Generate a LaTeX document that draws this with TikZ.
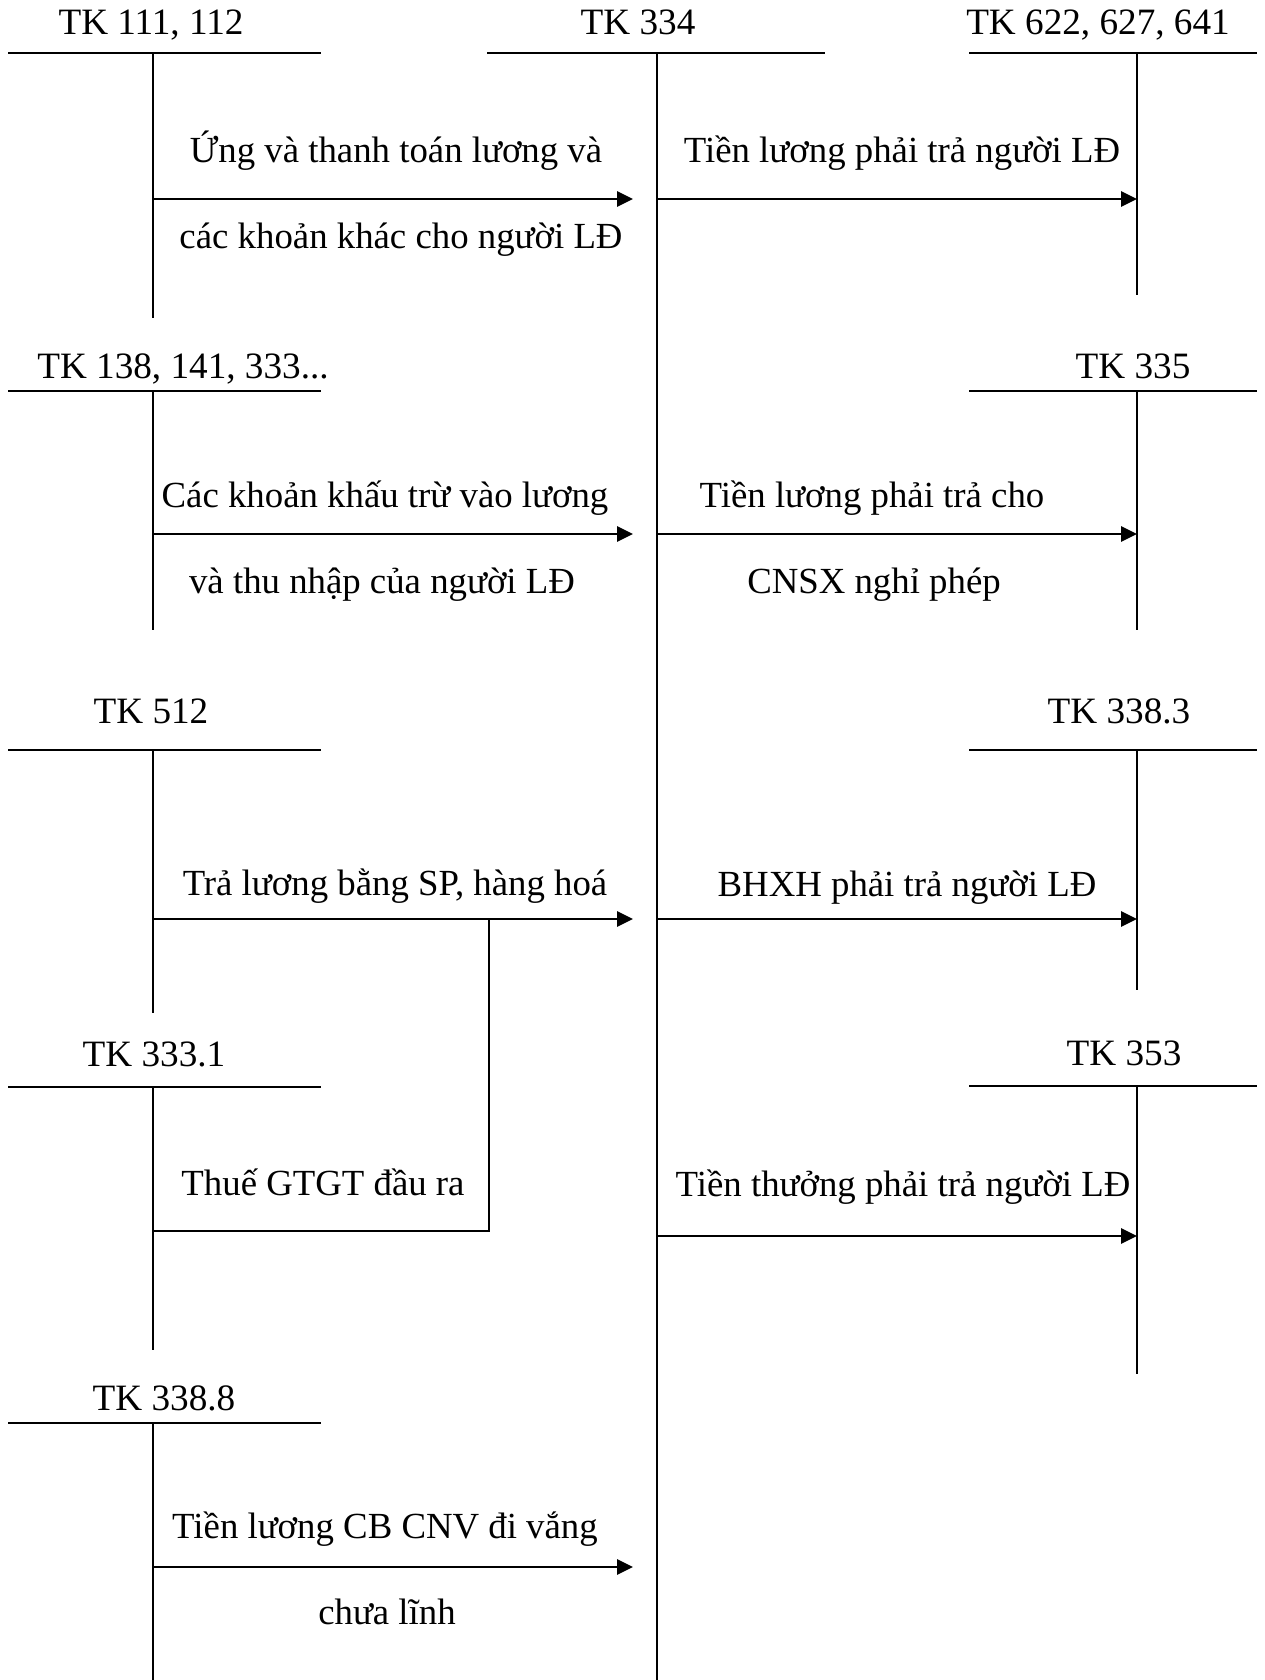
\documentclass[tikz,border=0pt]{standalone}
\usepackage{fontspec}
\setmainfont{Liberation Serif}
\usetikzlibrary{arrows.meta}
\begin{document}
\begin{tikzpicture}[x=0.5pt,y=-0.5pt,
  tline/.style={line width=0.85pt},
  flow/.style={line width=1.2pt,-{Triangle[length=8pt,width=7.6pt]}},
  branch/.style={line width=0.9pt},
  lbl/.style={inner sep=0pt,anchor=base,font=\fontsize{18.4}{22}\selectfont},
  ttl/.style={inner sep=0pt,anchor=base,font=\fontsize{18.6}{22}\selectfont}]
\useasboundingbox (0,0) rectangle (1264,1680);

% ---------- account titles ----------
\node[ttl] (tA1) at (151,35)   {TK 111, 112};
\node[ttl] (tM)  at (638,35)   {TK 334};
\node[ttl] (tB1) at (1098,35)  {TK 622, 627, 641};
\node[ttl] (tA2) at (183,378)  {TK 138, 141, 333...};
\node[ttl] (tB2) at (1133,378) {TK 335};
\node[ttl] (tA3) at (151,723)  {TK 512};
\node[ttl] (tB3) at (1119,723) {TK 338.3};
\node[ttl] (tA4) at (154,1066) {TK 333.1};
\node[ttl] (tB4) at (1124,1065) {TK 353};
\node[ttl] (tA5) at (164,1410) {TK 338.8};

% ---------- T-account corners ----------
% central account TK 334
\coordinate (mL) at (487,53);  \coordinate (mR) at (825,53);
\coordinate (mT) at (657,53);  \coordinate (mB) at (657,1680);
% left column
\coordinate (a1L) at (8,53);   \coordinate (a1R) at (321,53);
\coordinate (a1T) at (153,53); \coordinate (a1B) at (153,318);
\coordinate (a2L) at (8,391);  \coordinate (a2R) at (321,391);
\coordinate (a2T) at (153,391);\coordinate (a2B) at (153,630);
\coordinate (a3L) at (8,750);  \coordinate (a3R) at (321,750);
\coordinate (a3T) at (153,750);\coordinate (a3B) at (153,1013);
\coordinate (a4L) at (8,1087); \coordinate (a4R) at (321,1087);
\coordinate (a4T) at (153,1087);\coordinate (a4B) at (153,1350);
\coordinate (a5L) at (8,1423); \coordinate (a5R) at (321,1423);
\coordinate (a5T) at (153,1423);\coordinate (a5B) at (153,1680);
% right column
\coordinate (b1L) at (969,53);  \coordinate (b1R) at (1257,53);
\coordinate (b1T) at (1137,53); \coordinate (b1B) at (1137,295);
\coordinate (b2L) at (969,391); \coordinate (b2R) at (1257,391);
\coordinate (b2T) at (1137,391);\coordinate (b2B) at (1137,630);
\coordinate (b3L) at (969,750); \coordinate (b3R) at (1257,750);
\coordinate (b3T) at (1137,750);\coordinate (b3B) at (1137,990);
\coordinate (b4L) at (969,1086); \coordinate (b4R) at (1257,1086);
\coordinate (b4T) at (1137,1086);\coordinate (b4B) at (1137,1374);

\foreach \t in {m,a1,a2,a3,a4,a5,b1,b2,b3,b4}{
  \draw[tline] (\t L) -- (\t R);
  \draw[tline] (\t T) -- (\t B);
}

% ---------- entry points of the postings ----------
\coordinate (p1s) at (153,199);  \coordinate (p1e) at (633,199);
\coordinate (q1s) at (657,199);  \coordinate (q1e) at (1137,199);
\coordinate (p2s) at (153,534);  \coordinate (p2e) at (633,534);
\coordinate (q2s) at (657,534);  \coordinate (q2e) at (1137,534);
\coordinate (p3s) at (153,919);  \coordinate (p3e) at (633,919);
\coordinate (q3s) at (657,919);  \coordinate (q3e) at (1137,919);
\coordinate (vs)  at (153,1231); \coordinate (vk)  at (489,1231);
\coordinate (vj)  at (489,919);
\coordinate (q4s) at (657,1236); \coordinate (q4e) at (1137,1236);
\coordinate (p5s) at (153,1567); \coordinate (p5e) at (633,1567);

\draw[flow] (p1s) -- (p1e);
\draw[flow] (q1s) -- (q1e);
\draw[flow] (p2s) -- (p2e);
\draw[flow] (q2s) -- (q2e);
\draw[flow] (p3s) -- (p3e);
\draw[flow] (q3s) -- (q3e);
\draw[branch] (vs) -- (vk) -- (vj);
\draw[flow] (q4s) -- (q4e);
\draw[flow] (p5s) -- (p5e);

% ---------- posting descriptions ----------
\node[lbl] (l1a) at (396,163)  {Ứng và thanh toán lương và};
\node[lbl] (l1b) at (401,249)  {các khoản khác cho người LĐ};
\node[lbl] (r1)  at (902,163)  {Tiền lương phải trả người LĐ};
\node[lbl] (l2a) at (385,507)  {Các khoản khấu trừ vào lương};
\node[lbl] (l2b) at (382,593)  {và thu nhập của người LĐ};
\node[lbl] (r2a) at (872,507)  {Tiền lương phải trả cho};
\node[lbl] (r2b) at (874,593)  {CNSX nghỉ phép};
\node[lbl] (l3)  at (395,895)  {Trả lương bằng SP, hàng hoá};
\node[lbl] (r3)  at (907,896)  {BHXH phải trả người LĐ};
\node[lbl] (l4)  at (323,1195) {Thuế GTGT đầu ra};
\node[lbl] (r4)  at (903,1196) {Tiền thưởng phải trả người LĐ};
\node[lbl] (l5a) at (385,1538) {Tiền lương CB CNV đi vắng};
\node[lbl] (l5b) at (387,1624) {chưa lĩnh};
\end{tikzpicture}
\end{document}
